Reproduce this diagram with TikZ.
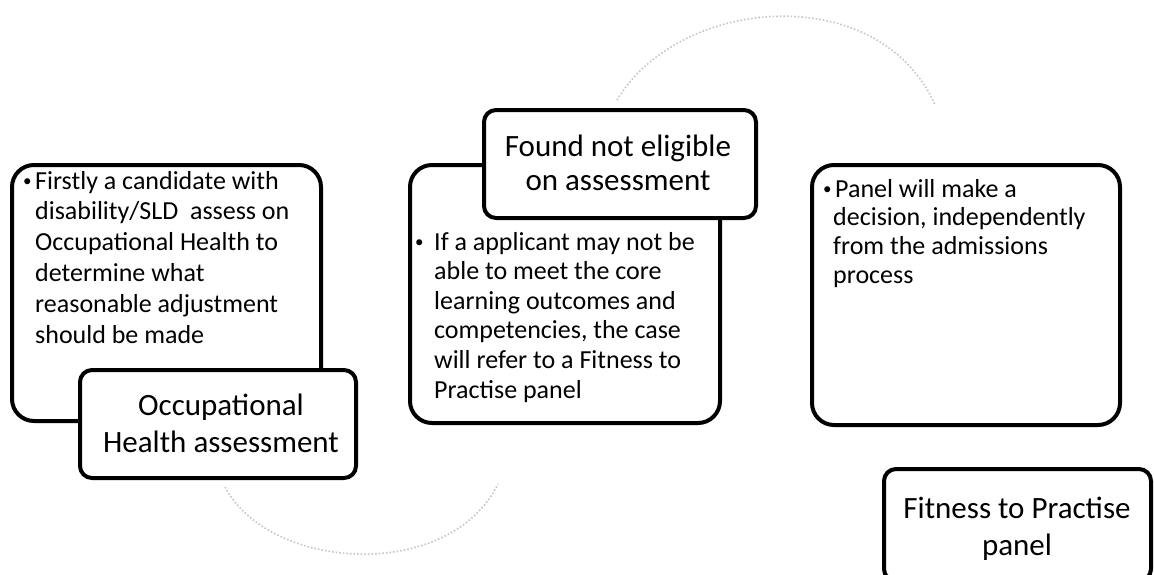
\documentclass[tikz,border=0pt]{standalone}
\usepackage{fontspec}
\setmainfont{Carlito}
\newcommand{\smbul}{\raisebox{2.5pt}{\fontsize{17}{17}\selectfont\textbullet}}
\begin{document}
\begin{tikzpicture}[x=1pt,y=-1pt,
  bigbox/.style={draw=black, line width=4pt, rounded corners=22pt, fill=white, inner sep=0pt},
  lblbox/.style={draw=black, line width=4pt, rounded corners=12pt, fill=white, inner sep=0pt},
  bodytext/.style={anchor=base west, inner sep=0pt, align=left},
  lbltext/.style={anchor=base, inner sep=0pt, font=\fontsize{31}{37}\selectfont},
  arcline/.style={draw=gray!45, line width=1.6pt, dotted}]
\useasboundingbox (0,0) rectangle (1154,574);
\clip (0,0) rectangle (1154,574);
% faint arcs
\coordinate (a1s) at (617,100);
\coordinate (a1e) at (935,105);
\coordinate (a2s) at (225,487);
\coordinate (a2e) at (498,484);
\draw[arcline] (a1s) .. controls (680,-5) and (880,-20) .. (a1e);
\draw[arcline] (a2s) .. controls (270,572) and (450,582) .. (a2e);
% boxes
\node[bigbox, minimum width=309pt, minimum height=256pt] (b1) at (166.5,293) {};
\node[lblbox, minimum width=276pt, minimum height=108pt] (l1) at (218,424) {};
\node[bigbox, minimum width=310pt, minimum height=258pt] (b2) at (565,294) {};
\node[lblbox, minimum width=272pt, minimum height=108pt] (l2) at (620,164) {};
\node[bigbox, minimum width=308pt, minimum height=260pt] (b3) at (966,295) {};
\node[lblbox, minimum width=267pt, minimum height=112pt] (l3) at (1017.5,525) {};
% body texts
\node[bodytext, font=\fontsize{26}{30.8}\selectfont] (t1) at (23,189)
 {\begin{tabular}[t]{@{}l@{}l@{}}
 \makebox[12pt][l]{\smbul}&Firstly a candidate with\\
 &disability/SLD\ \ assess on\\
 &Occupational Health to\\
 &determine what\\
 &reasonable adjustment\\
 &should be made
 \end{tabular}};
\node[bodytext, font=\fontsize{26}{29.6}\selectfont] (t2) at (415,250)
 {\begin{tabular}[t]{@{}l@{}l@{}}
 \makebox[19pt][l]{\smbul}&If a applicant may not be\\
 &able to meet the core\\
 &learning outcomes and\\
 &competencies, the case\\
 &will refer to a Fitness to\\
 &Practise panel
 \end{tabular}};
\node[bodytext, font=\fontsize{26}{28.7}\selectfont] (t3) at (823,197)
 {\begin{tabular}[t]{@{}l@{}l@{}}
 \makebox[10pt][l]{\smbul}&\hspace{2pt}Panel will make a\\
 &decision, independently\\
 &from the admissions\\
 &process
 \end{tabular}};
% label texts
\node[lbltext] (lt1) at (221,415)
 {\begin{tabular}[t]{@{}c@{}}Occupational\\Health assessment\end{tabular}};
\node[lbltext, font=\fontsize{31}{34.5}\selectfont] (lt2) at (618,156)
 {\begin{tabular}[t]{@{}c@{}}Found not eligible\\on assessment\end{tabular}};
\node[lbltext] (lt3) at (1017,518)
 {\begin{tabular}[t]{@{}c@{}}Fitness to Practise\\panel\end{tabular}};
\end{tikzpicture}
\end{document}
